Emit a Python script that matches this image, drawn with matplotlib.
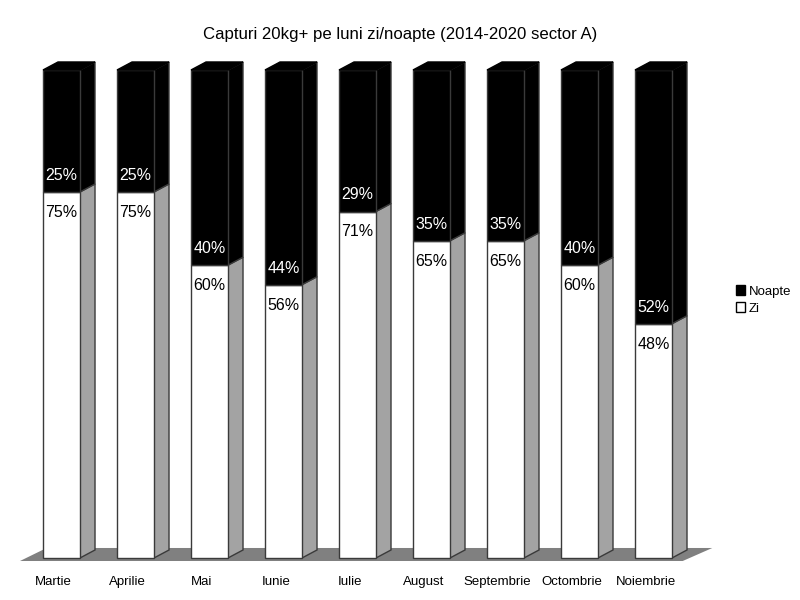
import matplotlib
matplotlib.use("Agg")
import matplotlib.pyplot as plt
from matplotlib.patches import Polygon, Patch

plt.rcParams['font.family'] = ['Liberation Sans', 'DejaVu Sans']

luni = ["Martie", "Aprilie", "Mai", "Iunie", "Iulie", "August",
        "Septembrie", "Octombrie", "Noiembrie"]
zi = [75, 75, 60, 56, 71, 65, 65, 60, 48]
noapte = [25, 25, 40, 44, 29, 35, 35, 40, 52]

title = "Capturi 20kg+ pe luni zi/noapte (2014-2020 sector A)"

fig = plt.figure(figsize=(8, 6), dpi=100)
ax = fig.add_axes([0, 0, 1, 1])
ax.set_xlim(-0.831, 9.980)
ax.set_ylim(-8.61, 114.34)
ax.axis("off")

half = 0.25      # half width of bar front
ddx = 0.203      # depth offset x
ddy = 1.64       # depth offset y
edge = "#3a3a3a"

# floor
n = len(luni)
fx0, fx1 = -0.561, n - 1 + 0.5 - 0.105
floor = Polygon([(fx0, -0.62), (fx1, -0.62), (fx1 + 0.4, 2.05), (fx0 + 0.36, 2.05)],
                closed=True, facecolor="#808080", edgecolor="none", zorder=1)
ax.add_patch(floor)

for i, (z, nz) in enumerate(zip(zi, noapte)):
    xl, xr = i - half, i + half
    segs = [(0, z, "white", "#a3a3a3"), (z, z + nz, "black", "black")]
    for y0, y1, fc, sc in segs:
        side = Polygon([(xr, y0), (xr + ddx, y0 + ddy), (xr + ddx, y1 + ddy), (xr, y1)],
                       closed=True, facecolor=sc, edgecolor=edge, lw=1, zorder=2)
        ax.add_patch(side)
        ax.bar(i, y1 - y0, bottom=y0, width=2 * half, color=fc,
               edgecolor=edge, lw=1, zorder=3)
    top = z + nz
    ax.add_patch(Polygon([(xl, top), (xr, top), (xr + ddx, top + ddy), (xl + ddx, top + ddy)],
                         closed=True, facecolor="black", edgecolor="black", lw=1, zorder=3))
    # labels
    ax.text(i, z - 4.2, f"{z}%", ha="center", va="center", fontsize=11.5,
            color="black", zorder=5)
    ax.text(i, z + 3.4, f"{nz}%", ha="center", va="center", fontsize=11.5,
            color="white", zorder=5)
    ax.text(i - 0.105, -5.0, luni[i], ha="center", va="center", fontsize=9.5,
            color="black")

ax.text(0.5, 1 - 35 / 600, title, transform=ax.transAxes, ha="center", va="center",
        fontsize=12.1)

handles = [Patch(facecolor="black", edgecolor="black"),
           Patch(facecolor="white", edgecolor="black")]
ax.legend(handles, ["Noapte", "Zi"], loc="center left",
          bbox_to_anchor=(724 / 800, 1 - 300 / 600), frameon=False,
          handlelength=0.7, handleheight=0.7, handletextpad=0.25,
          labelspacing=0.35, fontsize=9.5)

fig.savefig("out.png", dpi=100)
